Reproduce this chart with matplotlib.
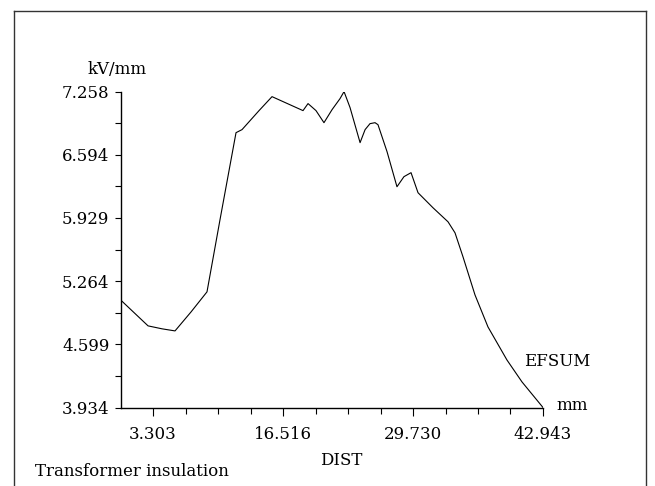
import numpy as np
import matplotlib
matplotlib.use("Agg")
import matplotlib.pyplot as plt
from matplotlib.lines import Line2D

# EFSUM along DIST
dist = [0.0, 0.97, 2.80, 4.22, 5.54, 7.17, 8.79, 10.11, 11.74, 12.35, 14.08,
        15.40, 18.55, 19.06, 19.87, 20.68, 21.50, 22.31, 22.72, 23.33, 24.35,
        24.86, 25.36, 25.87, 26.17, 27.09, 28.10, 28.81, 29.53, 30.24, 31.76,
        33.29, 34.00, 34.81, 36.03, 37.35, 39.28, 40.81, 42.943]
efsum = [5.067, 4.972, 4.793, 4.762, 4.740, 4.940, 5.151, 5.909, 6.826, 6.858, 7.058,
         7.205, 7.058, 7.132, 7.058, 6.931, 7.068, 7.184, 7.258, 7.090, 6.721,
         6.858, 6.921, 6.931, 6.910, 6.626, 6.257, 6.363, 6.405, 6.194, 6.036,
         5.888, 5.772, 5.520, 5.119, 4.782, 4.434, 4.203, 3.934]

ytick_labels = ["3.934", "4.599", "5.264", "5.929", "6.594", "7.258"]
xtick_labels = ["3.303", "16.516", "29.730", "42.943"]

plt.rcParams["font.family"] = ["DejaVu Serif"]
plt.rcParams["font.size"] = 12

fig = plt.figure(figsize=(6.55, 4.86), dpi=100)
ax = fig.add_axes([0.184, 0.1615, 0.645, 0.650])

ax.plot(dist, efsum, color="black", lw=0.8)

ymin, ymax = 3.934, 7.258
xmin, xmax = 0.0, 42.943
ax.set_xlim(xmin, xmax)
ax.set_ylim(ymin, ymax)

yt = np.linspace(ymin, ymax, 6)
ax.set_yticks(yt)
ax.set_yticklabels(ytick_labels)
ax.set_yticks((yt[:-1] + yt[1:]) / 2, minor=True)

xt = np.linspace(xmin, xmax, 14)[1:]
ax.set_xticks(xt[::4])
ax.set_xticklabels(xtick_labels)
ax.set_xticks([v for i, v in enumerate(xt) if i % 4 != 0], minor=True)

for s in ["top", "right"]:
    ax.spines[s].set_visible(False)
for s in ["left", "bottom"]:
    ax.spines[s].set_linewidth(1.0)

ax.tick_params(axis="y", which="both", direction="out", length=4, width=0.8, pad=4)
ax.tick_params(axis="x", which="major", direction="out", length=6, width=0.8, pad=7)
ax.tick_params(axis="x", which="minor", direction="out", length=4, width=0.8)

fig.text(0.179, 0.856, "kV/mm", ha="center", va="center")
fig.text(0.850, 0.165, "mm", ha="left", va="center")
fig.text(0.800, 0.257, "EFSUM", ha="left", va="center")
fig.text(0.521, 0.053, "DIST", ha="center", va="center")
fig.text(0.053, 0.029, "Transformer insulation", ha="left", va="center")

# page frame
x0, x1, y1 = 14 / 655, 646 / 655, 1 - 11 / 486
for xs, ys in [([x0, x1], [y1, y1]), ([x0, x0], [0, y1]), ([x1, x1], [0, y1])]:
    fig.add_artist(Line2D(xs, ys, transform=fig.transFigure, color="#333333", lw=1.0))

fig.savefig("out.png", dpi=100)
